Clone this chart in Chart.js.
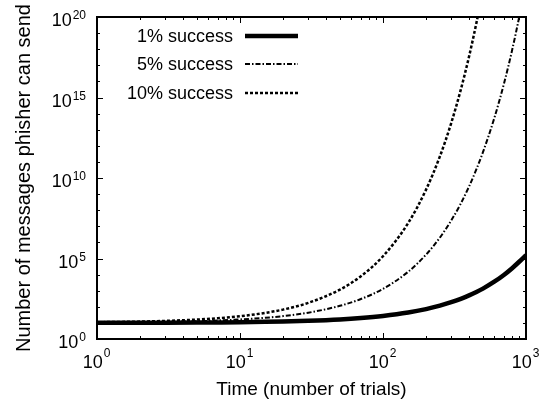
<!DOCTYPE html>
<html>
<head>
<meta charset="utf-8">
<script src="https://cdn.jsdelivr.net/npm/chart.js@4"></script>
<style>
  html, body { margin: 0; padding: 0; background: #fff; }
  #wrap { width: 549px; height: 403px; }
</style>
</head>
<body>
<div id="wrap"><canvas id="grafico"></canvas></div>
<script>
// values
const trials = [1, 2, 3, 5, 7, 10, 15, 20, 30, 50, 70, 100, 150, 200, 250, 300, 350, 400, 450, 500, 600, 700, 800, 900, 1000];
const success1 = [10.1, 10.2, 10.3, 10.5, 10.7, 11, 11.6, 12.2, 13.5, 16.4, 20, 27, 44, 72, 118, 193, 315, 510, 830, 1350, 3600, 9500, 25000, 65000, 160000];
const success5 = [10.5, 11, 11.6, 12.8, 14.1, 16.3, 20.8, 26.5, 43, 115, 304, 1300, 15000, 174000, 2e6, 2.3e7, 2.6e8, 3e9, 3.5e10, 4e11, 5.2e13, 6.8e15, 8.9e17, 1.2e20, 1.5e22];
const success10 = [11, 12.1, 13.3, 16.1, 19.5, 26, 42, 67, 175, 1170, 7900, 138000, 1.6e7, 1.9e9, 2.2e11, 2.6e13, 3.1e15, 3.6e17, 4.3e19, 5e21, 6e25, 7e29, 8e33, 1e38, 1e42];
const seriesLabels = ["1% success", "5% success", "10% success"];
const xTicks = [1, 10, 100, 1000];
const yTicks = [1, 1e5, 1e10, 1e15, 1e20];

const FONT = "'Liberation Sans', Arial, Helvetica, sans-serif";

function pontos(valores) {
  return trials.map((t, i) => ({ x: t, y: valores[i] }));
}

// gnuplot style frame, ticks, labels and key
const moldura = {
  id: "moldura",
  afterDraw(chart) {
    const ctx = chart.ctx;
    const a = chart.chartArea;
    const sx = chart.scales.x, sy = chart.scales.y;
    ctx.save();
    ctx.strokeStyle = "#000";
    ctx.fillStyle = "#000";

    // ticks (mirrored on all sides)
    ctx.lineWidth = 1;
    ctx.beginPath();
    for (let d = 0; d < 3; d++) {
      for (let m = 1; m <= 9; m++) {
        const v = Math.pow(10, d) * m;
        const px = Math.round(sx.getPixelForValue(v)) + 0.5;
        const len = m === 1 ? 6 : 3;
        ctx.moveTo(px, a.bottom); ctx.lineTo(px, a.bottom - len);
        ctx.moveTo(px, a.top); ctx.lineTo(px, a.top + len);
      }
    }
    for (let e = 0; e <= 20; e++) {
      const py = Math.round(sy.getPixelForValue(Math.pow(10, e))) + 0.5;
      const len = e % 5 === 0 ? 6 : 3;
      ctx.moveTo(a.left, py); ctx.lineTo(a.left + len, py);
      ctx.moveTo(a.right, py); ctx.lineTo(a.right - len, py);
    }
    ctx.stroke();

    // frame
    ctx.lineWidth = 2;
    ctx.strokeRect(a.left, a.top, a.right - a.left, a.bottom - a.top);

    // tick labels with superscript exponents
    const base = "18px " + FONT, sup = "12px " + FONT;
    ctx.textBaseline = "alphabetic";
    ctx.textAlign = "left";
    xTicks.forEach(v => {
      const e = String(Math.round(Math.log10(v)));
      ctx.font = base; const w1 = ctx.measureText("10").width;
      ctx.font = sup; const w2 = ctx.measureText(e).width;
      const x0 = sx.getPixelForValue(v) - (w1 + w2) / 2 - 1;
      ctx.font = base; ctx.fillText("10", x0, 368);
      ctx.font = sup; ctx.fillText(e, x0 + w1 + 1, 357);
    });
    yTicks.forEach(v => {
      const e = String(Math.round(Math.log10(v)));
      ctx.font = base; const w1 = ctx.measureText("10").width;
      ctx.font = sup; const w2 = ctx.measureText(e).width;
      const py = sy.getPixelForValue(v);
      const x0 = 86 - w1 - w2 - 1;
      ctx.font = base; ctx.fillText("10", x0, py + 9);
      ctx.font = sup; ctx.fillText(e, x0 + w1 + 1, py + 2);
    });

    // axis titles
    ctx.font = "19px " + FONT;
    ctx.textAlign = "center";
    ctx.fillText("Time (number of trials)", (a.left + a.right) / 2, 395);
    ctx.save();
    ctx.font = "20px " + FONT;
    ctx.translate(30, (a.top + a.bottom) / 2);
    ctx.rotate(-Math.PI / 2);
    ctx.fillText("Number of messages phisher can send", 0, 0);
    ctx.restore();

    // key
    const ys = [36, 64, 93];
    chart.data.datasets.forEach((ds, i) => {
      ctx.font = "18px " + FONT;
      ctx.textAlign = "right";
      ctx.fillText(ds.label, 233, ys[i] + 6);
      ctx.beginPath();
      ctx.lineWidth = ds.borderWidth;
      ctx.setLineDash(ds.borderDash || []);
      ctx.moveTo(245, ys[i]);
      ctx.lineTo(298, ys[i]);
      ctx.stroke();
      ctx.setLineDash([]);
    });
    ctx.restore();
  }
};

new Chart(document.getElementById("grafico"), {
  type: "line",
  data: {
    datasets: [
      {
        label: seriesLabels[0],
        data: pontos(success1),
        borderColor: "#000",
        borderWidth: 4.5,
        pointRadius: 0,
        cubicInterpolationMode: "monotone"
      },
      {
        label: seriesLabels[1],
        data: pontos(success5),
        borderColor: "#000",
        borderWidth: 2,
        borderDash: [5, 2, 1.5, 2],
        pointRadius: 0,
        cubicInterpolationMode: "monotone"
      },
      {
        label: seriesLabels[2],
        data: pontos(success10),
        borderColor: "#000",
        borderWidth: 2.5,
        borderDash: [3, 2],
        pointRadius: 0,
        cubicInterpolationMode: "monotone"
      }
    ]
  },
  options: {
    responsive: true,
    maintainAspectRatio: false,
    animation: false,
    layout: { padding: { left: 97, right: 23, top: 17, bottom: 64 } },
    plugins: { legend: { display: false }, tooltip: { enabled: false } },
    scales: {
      x: { type: "logarithmic", min: 1, max: 1000, display: false },
      y: { type: "logarithmic", min: 1, max: 1e20, display: false }
    }
  },
  plugins: [moldura]
});
</script>
</body>
</html>
